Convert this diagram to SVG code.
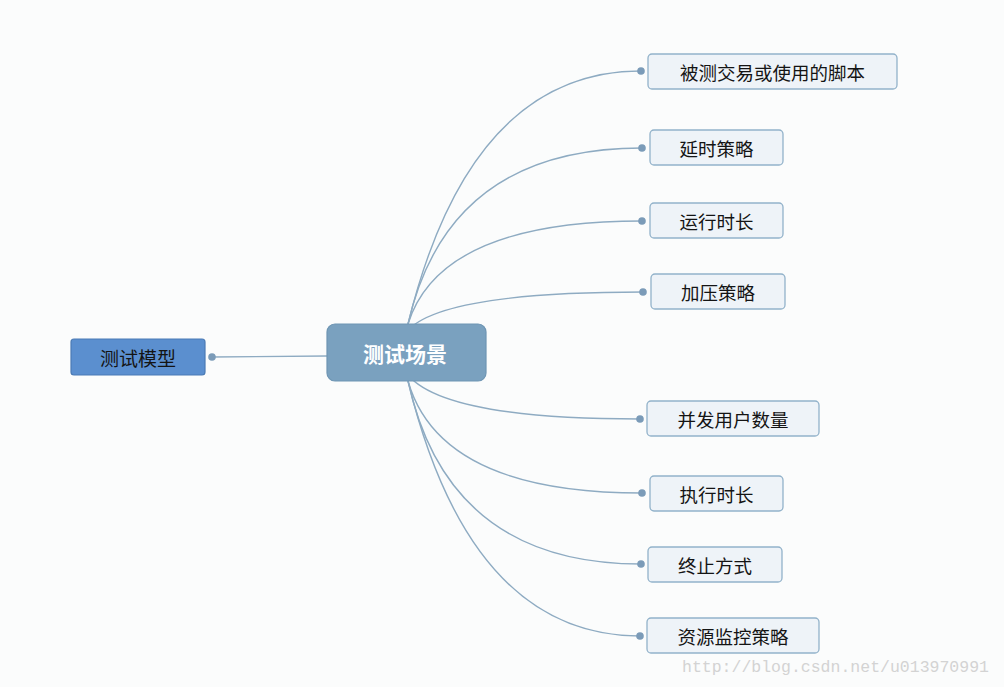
<svg xmlns="http://www.w3.org/2000/svg" width="1004" height="687" viewBox="0 0 1004 687">
<style>
.bg{fill:#fbfcfc}
.leaf rect{fill:#eef3f8;stroke:#92b2ca;stroke-width:1.3}
.leaf text{font-family:"Noto Sans CJK SC","Noto Sans",sans-serif;font-size:18.5px;fill:#141414;text-anchor:middle;dominant-baseline:central}
.conn path{fill:none;stroke:#8eabc2;stroke-width:1.4}
.conn circle{fill:#7b9bb8}
</style>
<rect class="bg" width="1004" height="687"/>
<g id="connectors" class="conn">
<path d="M327,356 L212,357"/>
<circle cx="212" cy="357" r="3.8"/>
<path d="M408,324 Q470,71 641,71"/>
<path d="M408,324 Q448,148 642,148"/>
<path d="M408,324 Q440,221 642,221"/>
<path d="M408,330 Q445,292 643,292"/>
<path d="M408,375 Q445,419 640,419"/>
<path d="M408,381 Q440,493 642,493"/>
<path d="M408,381 Q448,564 641,564"/>
<path d="M408,381 Q470,636 640,636"/>
<circle cx="641" cy="71" r="3.8"/>
<circle cx="642" cy="148" r="3.8"/>
<circle cx="642" cy="221" r="3.8"/>
<circle cx="643" cy="292" r="3.8"/>
<circle cx="640" cy="419" r="3.8"/>
<circle cx="642" cy="493" r="3.8"/>
<circle cx="641" cy="564" r="3.8"/>
<circle cx="640" cy="636" r="3.8"/>
</g>
<g id="node-model">
<rect x="71" y="339" width="134" height="36" rx="3" fill="#5b8fcf" stroke="#4b7bb5" stroke-width="1.2"/>
<text x="138" y="357" font-family="Noto Sans CJK SC, Noto Sans, sans-serif" font-size="19" fill="#141414" text-anchor="middle" dominant-baseline="central">测试模型</text>
</g>
<g id="node-scene">
<rect x="327" y="324" width="159" height="57" rx="8" fill="#7aa1bf" stroke="#6e95b3" stroke-width="1.2"/>
<text x="405" y="353" font-family="Noto Sans CJK SC, Noto Sans, sans-serif" font-size="21" font-weight="bold" fill="#ffffff" text-anchor="middle" dominant-baseline="central">测试场景</text>
</g>
<g id="node-script" class="leaf"><rect x="648" y="54" width="249" height="35" rx="4"/><text x="772.5" y="72">被测交易或使用的脚本</text></g>
<g id="node-delay" class="leaf"><rect x="650" y="130" width="133" height="35" rx="4"/><text x="716.5" y="148">延时策略</text></g>
<g id="node-runtime" class="leaf"><rect x="650" y="203" width="133" height="35" rx="4"/><text x="716.5" y="221">运行时长</text></g>
<g id="node-load" class="leaf"><rect x="651" y="274" width="134" height="35" rx="4"/><text x="718" y="292">加压策略</text></g>
<g id="node-users" class="leaf"><rect x="647" y="401" width="172" height="35" rx="4"/><text x="733" y="419">并发用户数量</text></g>
<g id="node-exec" class="leaf"><rect x="650" y="476" width="133" height="35" rx="4"/><text x="716.5" y="494">执行时长</text></g>
<g id="node-stop" class="leaf"><rect x="648" y="547" width="134" height="35" rx="4"/><text x="715" y="565">终止方式</text></g>
<g id="node-monitor" class="leaf"><rect x="647" y="618" width="172" height="35" rx="4"/><text x="733" y="636">资源监控策略</text></g>
<text x="682" y="672" font-family="Liberation Mono, monospace" font-size="16.5" fill="#d3d3d3">http://blog.csdn.net/u013970991</text>
</svg>
